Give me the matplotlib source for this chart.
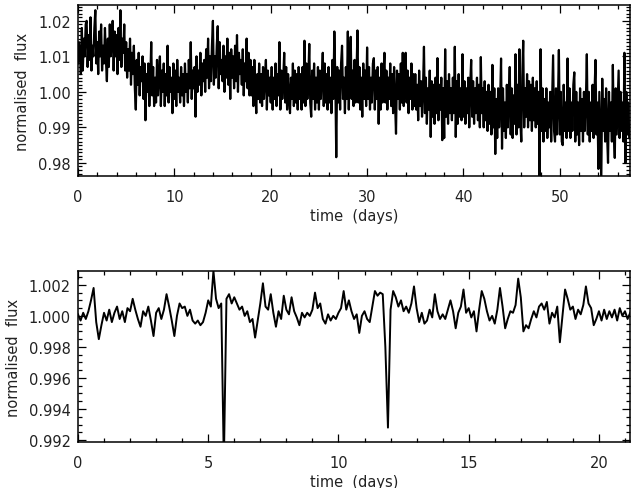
import numpy as np
import matplotlib
matplotlib.use("Agg")
import matplotlib.pyplot as plt
from matplotlib.ticker import MultipleLocator

# ---------------------------------------------
# Light curve data
# ---------------------------------------------
# full light curve, one sample every 0.1 d, deviation from 1 in ppt (1e-3)
dt_full = 0.1
dev_full_ppt = [
    8, 14, 11, 5, 18, 6, 15, 10, 19, 20,                 # day 0
    7, 16, 9, 21, 6, 13, 10, 18, 23, 8,                  # day 1
    14, 5, 17, 10, 19, 6, 13, 8, 18, 9,                  # day 2
    3, 15, 7, 19, 10, 14, 20, 6, 17, 10,                 # day 3
    16, 5, 18, 9, 23, 7, 15, 11, 19, 6,                  # day 4
    14, 4, 12, 6, 15, 2, 11, 5, 13, 1,                   # day 5
    -5, 9, 2, 11, -1, 7, 3, 10, -2, 8,                   # day 6
    -8, 5, 0, 8, -4, 3, 14, -1, 7, -4,                   # day 7
    4, -3, 9, -1, 5, 10, -4, 6, 0, 8,                    # day 8
    -4, 5, -1, 13, -3, 7, 0, 4, -6, 8,                   # day 9
    -2, 6, -4, 9, 0, 4, -3, 7, -1, 5,                    # day 10
    -4, 8, 0, 5, -3, 9, 1, 14, -2, 6,                    # day 11
    1, 7, -7, 10, 0, 6, 2, 11, -1, 8,                    # day 12
    3, 9, 0, 12, 4, 15, 1, 10, 3, 13,                    # day 13
    20, 2, 10, 4, 13, 18.5, 1, 14, 5, 9,                 # day 14
    3, 13, 0, 10, 4, 15, 2, 11, -2, 12,                  # day 15
    4, 10, 1, 13, 3, 16, 0, 11, 5, 9,                    # day 16
    2, 12, -1, 8, 3, 15, 1, 11, -1, 9,                   # day 17
    -1, 7, -4, 9, 0, -6, 5, -2, 8, -3,                   # day 18
    5, -4, 7, -2, 4, 9, -5, 6, -1, 4,                    # day 19
    -3, 7, -5, 4, -2, 8, -4, 5, -1, 14,                  # day 20
    -5, 6, -2, 4, 11, -3, 7, -5, 5, -1,                  # day 21
    -6, 4, -2, 8, -4, 6, -3, 5, -5, 7,                   # day 22
    -2, 5, -5, 7, -3, 14.4, -4, 8, -2, 4,                # day 23
    13.5, -3, -7, 6, -2, 8, -5, 4, -3, 7,                # day 24
    -5, 6, -2, 4, 11, -4, 8, -3, 5, -5,                  # day 25
    7, -3, 4, -6, 9, -2, 17, 4, -18.4, 7,                # day 26
    -3, 6, -5, 8, 13, -2, 4, -6, 7, -2,                  # day 27
    17, -5, 8, 15.5, -2, 6, -4, 9, -3, 5,                # day 28
    17.3, -3, 7, -5, 4, -7, 8, -2, 6, -4,                # day 29
    12.5, -2, 7, -5, 4, -3, 8, 9.5, -5, 6,               # day 30
    -2, 7, -9, 4, -5, 8, -3, 5, 11, -3,                  # day 31
    6, -5, 4, -2, 8, -4, 5, -6, 7, -3,                   # day 32
    -11.8, 6, -2, 5, -5, 8, -3, 11, -4, 6,               # day 33
    11, -3, 6, -6, 4, -2, 8, -5, 5, -4,                  # day 34
    5, -5, 2, -8, 6, -4, 3, -7, 1, 12.7,                 # day 35
    -6, 4, -9, 1, -5, 6, -12.7, 3, -7, 2,                # day 36
    -9, 4, -6, 9.5, -8, 2, -5, 4, -13.6, 1,              # day 37
    -13, 12, -7, 3, -9, 5, -6, 1, -8, 4,                 # day 38
    -6, 12.7, -12.7, 3, -9, 5, -7, 1, -8, 10.6,          # day 39
    -7, 3, -9, 1, -6, 4, -10, 2, 9, -7,                  # day 40
    3, -9, 1, -6, 4, -8, 2, -10, 9.8, -6,                # day 41
    1, -10, 3, -8, 0, -11, 2, -9, 0, -12,                # day 42
    7.6, -10, 1, -17.5, -2, -13, 1, -10, -3, 9.4,        # day 43
    -16, 1, -11, -3, -13, 2, -10, -2, 7, -12,            # day 44
    1, -13, -1, -9, 10.6, -12, 2, -10, 12, -8,           # day 45
    -14, 4, 14.4, -10, 1, -7, 5, -10, 3, -8,             # day 46
    2, -11, 4, -8, 1, -10, 3, -9, 0, -25,                # day 47
    12, -11, 1, -14, -2, -11, 1, -13, -3, -10,           # day 48
    0, -14, -2, 10.3, -11, -14, 1, -12, -3, 11.8,        # day 49
    -12, 0, -14, -15, 2, -11, -3, -13, 9.4, -11,         # day 50
    1, -13, -3, -11, 2, 5.5, -14, 0, -12, -3,            # day 51
    -15, 1, -11, -2, -14, 0, -11, -3, 10.6, -12,         # day 52
    0, -14, -3, -11, 2, -13, 0, 9, -12, -3,              # day 53
    -21.7, 0, -13, -25, 3.7, -11, -2, -14, 1, -12,       # day 54
    -20, 0, -11, -3, -14, 7.6, -11, -18.6, 1, -12,       # day 55
    -3, 6, -13, 0, -11, -3, -14, 11, -20, 0,             # day 56
    -12, -3, -13,                                        # day 57
]

# zoom on the first 21 days, one sample every 0.1 d, deviation in units of 1e-4
dt_zoom = 0.1
dev_zoom_1e4 = [
    1, -3, 2, -2, 3, 10, 18, -4, -15, -6,
    2, -3, 4, -4, 2, 6, -2, 3, -4, 5,
    3, 11, 4, -2, -7, 3, 0, 6, -3, -13,
    2, 5, -2, 4, 14, 6, -3, -13, 0, 8,
    5, 6, 0, 4, -3, -5, -3, -6, -4, 2,
    10, 6, 29, 11, 5, 8, -95, 11, 14, 8,
    12, 8, 4, 6, 0, 3, -4, -2, -14, -3,
    8, 21, 6, 4, 14, 2, -7, 3, -2, 13,
    4, 1, 12, 3, -1, -6, 2, -1, 2, 0,
    4, 15, 5, 8, -2, -5, 1, -3, 0, -2,
    2, 5, 16, 4, 10, 3, -2, 1, -11, 0,
    3, -2, -4, 6, 16, 13, 15, 14, -20, -72,
    4, 16, 12, 6, 10, 3, 6, 2, 8, 19,
    5, -4, 2, -5, -3, 4, -1, 14, 3, -2,
    1, -2, 4, 10, 3, -8, 2, 6, 17, 2,
    5, -1, 3, -10, 4, 16, 11, 3, -3, 0,
    -5, 4, 18, 6, -8, -2, 3, 2, 7, 24,
    12, -10, -6, -8, -2, 3, -1, 6, 8, 4,
    9, -5, 2, -1, 6, -17, 0, 17, 11, 4,
    6, -2, 4, 1, 7, 19, 8, 5, -6, -2,
    3, -3, 4, -2, 3, -1, 4, -3, 5, 0,
    3, -2, 2,
]

t_full = np.arange(len(dev_full_ppt)) * dt_full
flux_full = 1.0 + np.array(dev_full_ppt) * 1e-3
t_zoom = np.arange(len(dev_zoom_1e4)) * dt_zoom
flux_zoom = 1.0 + np.array(dev_zoom_1e4) * 1e-4

txt_col = "#222222"
plt.rcParams["font.family"] = "DejaVu Sans"
plt.rcParams["font.size"] = 10.5

fig = plt.figure(figsize=(6.34, 4.89), dpi=100)
ax1 = fig.add_axes([0.123, 0.638, 0.871, 0.350])
ax2 = fig.add_axes([0.123, 0.094, 0.871, 0.350])


def idl_axes(ax):
    ax.tick_params(which="both", direction="in", top=True, right=True,
                   colors="black", labelcolor=txt_col, width=0.9)
    ax.tick_params(which="major", length=6, pad=9)
    ax.tick_params(which="minor", length=3)
    ax.tick_params(axis="y", which="major", pad=5)
    for s in ax.spines.values():
        s.set_linewidth(1.1)


# -------------------------------
# Full light curve
# -------------------------------
ax1.plot(t_full, flux_full, color="black", lw=1.6)
ax1.set_xlim(0, 57.3)
ax1.set_ylim(0.9763, 1.0245)
ax1.xaxis.set_major_locator(MultipleLocator(10))
ax1.xaxis.set_minor_locator(MultipleLocator(2))
ax1.yaxis.set_major_locator(MultipleLocator(0.01))
ax1.yaxis.set_minor_locator(MultipleLocator(0.001))
ax1.yaxis.set_major_formatter(plt.FormatStrFormatter("%.2f"))
idl_axes(ax1)
ax1.set_xlabel("time  (days)", color=txt_col, labelpad=3)
ax1.set_ylabel("normalised  flux", color=txt_col, labelpad=6)

# -------------------------------
# Zoom on transits
# -------------------------------
ax2.plot(t_zoom, flux_zoom, color="black", lw=1.4)
ax2.set_xlim(0, 21.2)
ax2.set_ylim(0.99187, 1.0029)
ax2.xaxis.set_major_locator(MultipleLocator(5))
ax2.xaxis.set_minor_locator(MultipleLocator(1))
ax2.yaxis.set_major_locator(MultipleLocator(0.002))
ax2.yaxis.set_minor_locator(MultipleLocator(0.0005))
ax2.yaxis.set_major_formatter(plt.FormatStrFormatter("%.3f"))
idl_axes(ax2)
ax2.set_xlabel("time  (days)", color=txt_col, labelpad=3)
ax2.set_ylabel("normalised  flux", color=txt_col, labelpad=6)

fig.savefig("out.png", dpi=100)
